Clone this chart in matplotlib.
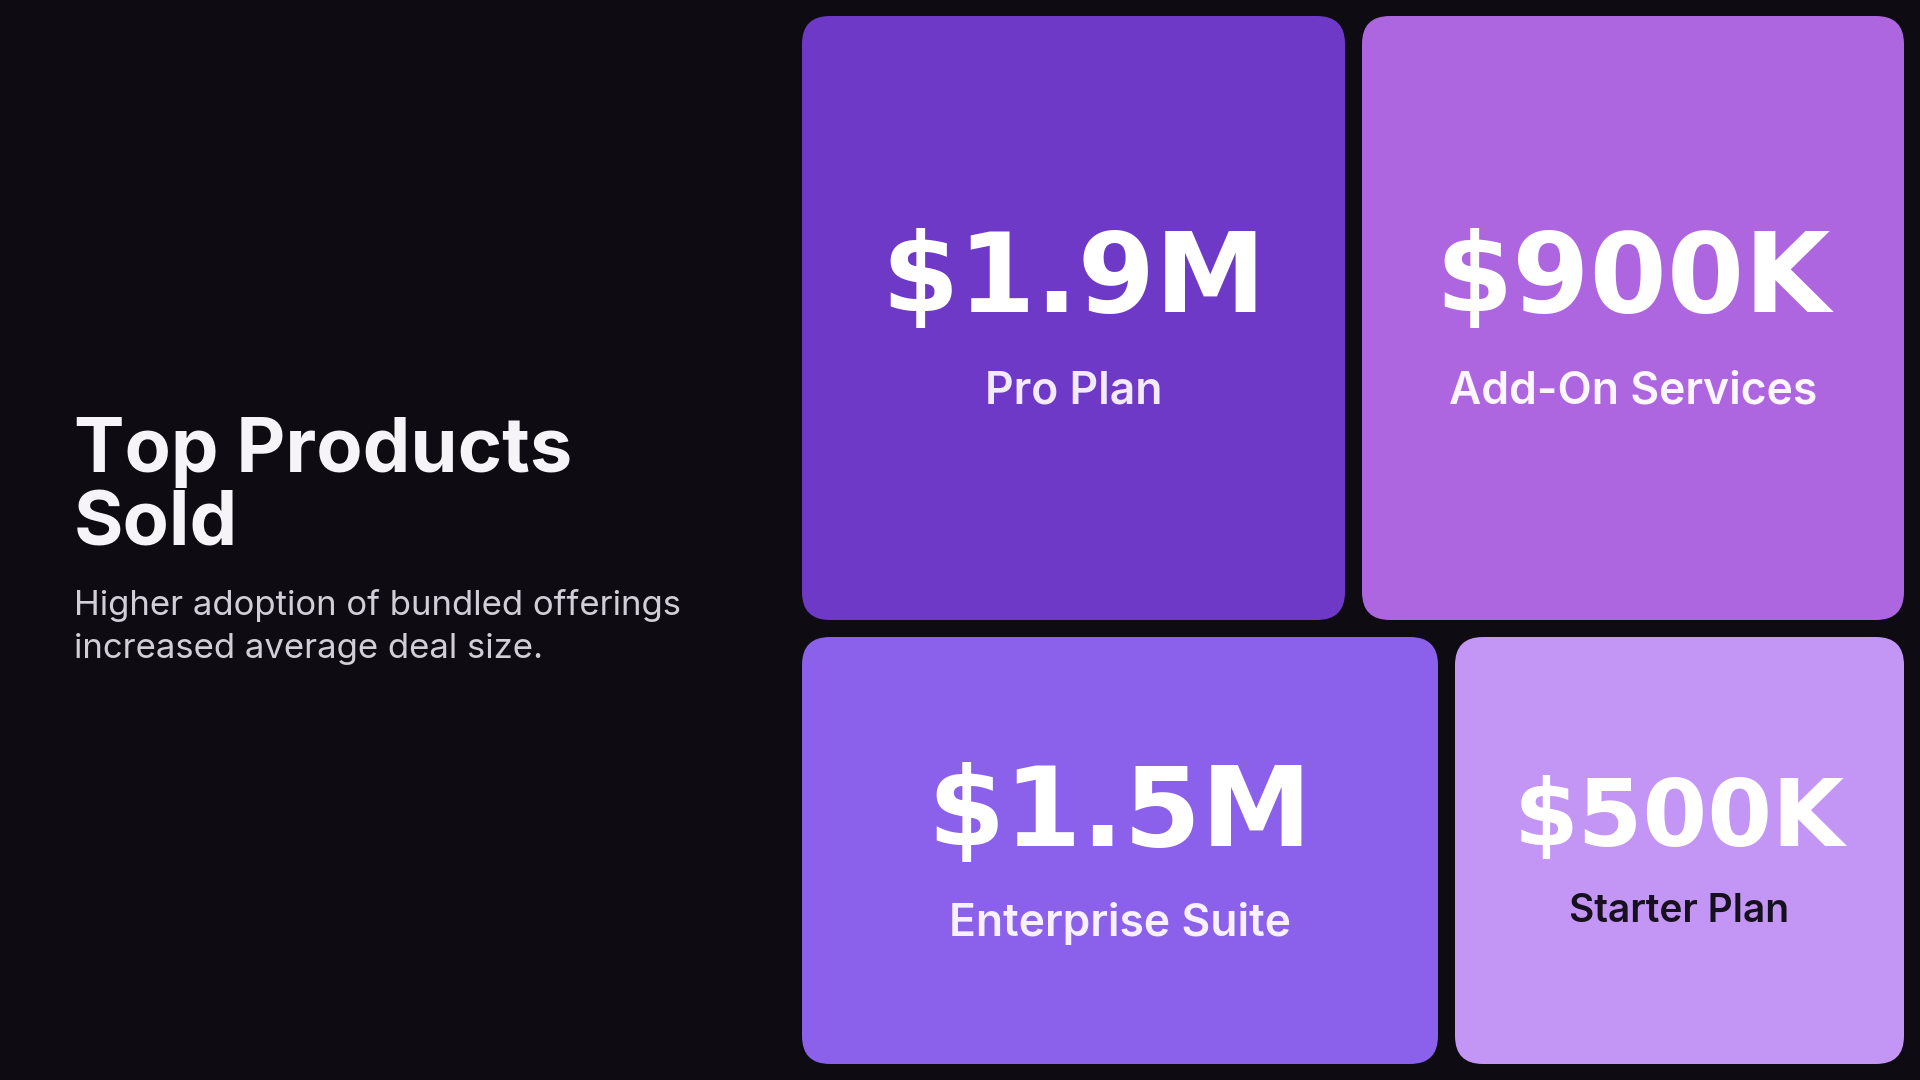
import matplotlib
matplotlib.use('Agg')
from matplotlib import pyplot as plt
from matplotlib.patches import FancyBboxPatch

# data
products = ['Pro Plan', 'Add-On Services', 'Enterprise Suite', 'Starter Plan']
revenue_k = [1900, 900, 1500, 500]
tile_colors = ['#6E39C7', '#AD66DF', '#8B60EB', '#C396F6']
label_colors = ['#F3EAFF', '#FBF6FF', '#F6F0FF', '#16101F']

title = 'Top Products\nSold'
subtitle = 'Higher adoption of bundled offerings\nincreased average deal size.'

# tile layout in pixels (x0, y0, x1, y1), value font size, value/label baselines
layout = [
    ((802, 16, 1345, 620), 80, 312, 404),
    ((1362, 16, 1904, 620), 80, 312, 404),
    ((802, 637, 1438, 1064), 80, 846, 936),
    ((1455, 637, 1904, 1064), 67, 846, 922),
]

BG = '#0E0B13'


def fmt_money(k):
    if k >= 1000:
        return '$%.1fM' % (k / 1000)
    return '$%dK' % k


fig = plt.figure(figsize=(19.2, 10.8), dpi=100, facecolor=BG)
ax = fig.add_axes([0, 0, 1, 1])
ax.set_xlim(0, 1920)
ax.set_ylim(1080, 0)
ax.set_facecolor(BG)
ax.axis('off')

for name, val, col, lcol, (box, vsize, vbase, lbase) in zip(
        products, revenue_k, tile_colors, label_colors, layout):
    x0, y0, x1, y1 = box
    ax.add_patch(FancyBboxPatch((x0, y0), x1 - x0, y1 - y0,
                                boxstyle='round,pad=0,rounding_size=28',
                                facecolor=col, edgecolor='none'))
    cx = (x0 + x1) / 2
    ax.text(cx, vbase, fmt_money(val), color='white', fontsize=vsize,
            fontweight='bold', family='DejaVu Sans', ha='center', va='baseline')
    ax.text(cx, lbase, name, color=lcol, fontsize=32 if vsize > 70 else 28,
            fontweight='semibold', family='Inter', ha='center', va='baseline')

# left-hand heading
for i, line in enumerate(title.split('\n')):
    ax.text(74, 472 + i * 73, line, color='#F6F4F8', fontsize=54.5,
            fontweight='bold', family='Inter', ha='left', va='baseline')
for i, line in enumerate(subtitle.split('\n')):
    ax.text(74, 615 + i * 43, line, color='#D2CED8', fontsize=25,
            family='Inter', ha='left', va='baseline')

fig.savefig('out.png', dpi=100, facecolor=BG)
